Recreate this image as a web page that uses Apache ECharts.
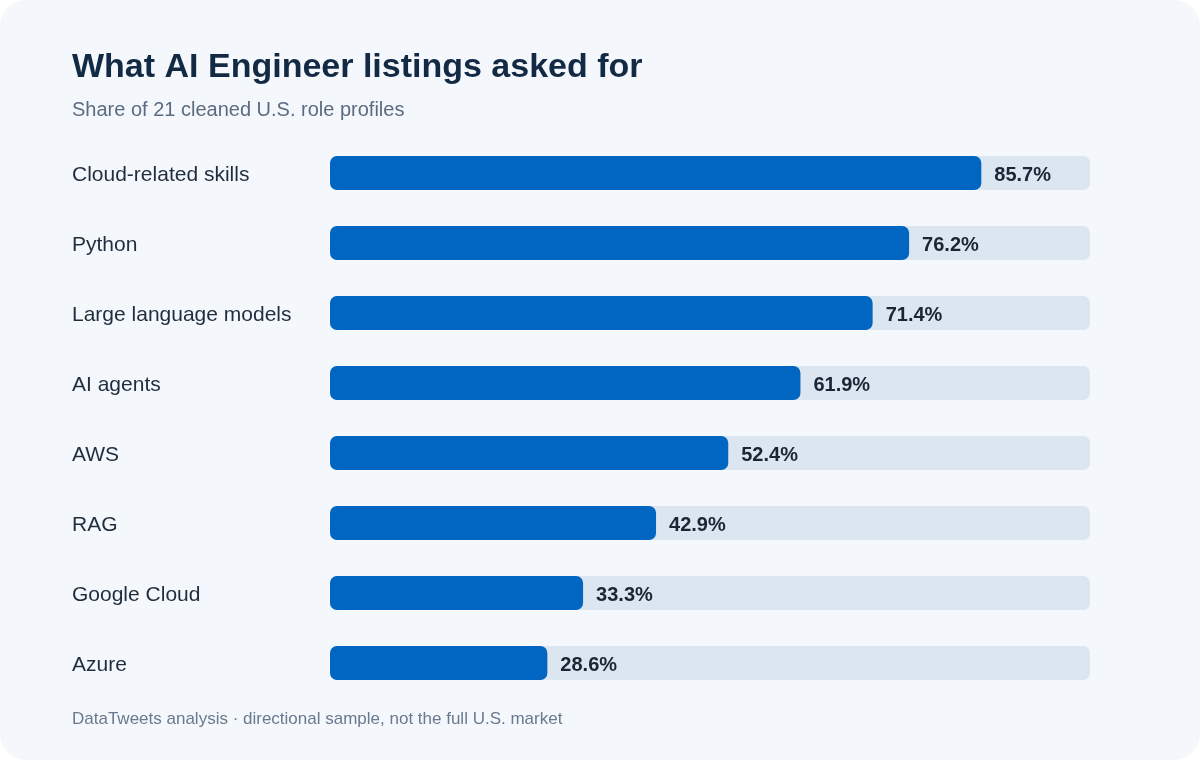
<!DOCTYPE html>
<html><head><meta charset="utf-8">
<script src="https://cdn.jsdelivr.net/npm/echarts@6/dist/echarts.min.js"></script>
<style>html,body{margin:0;padding:0;background:#ffffff;}#c{width:1200px;height:760px;}</style>
</head><body><div id="c"></div>
<script>
const categories = ["Cloud-related skills","Python","Large language models","AI agents","AWS","RAG","Google Cloud","Azure"];
const shares = [85.7, 76.2, 71.4, 61.9, 52.4, 42.9, 33.3, 28.6];
const titleText = "What AI Engineer listings asked for";
const subtitleText = "Share of 21 cleaned U.S. role profiles";
const footerText = "DataTweets analysis \u00b7 directional sample, not the full U.S. market";

const chart = echarts.init(document.getElementById('c'), null, {renderer:'canvas'});
const font = 'Liberation Sans';
chart.setOption({
  backgroundColor: 'transparent',
  animation: false,
  graphic: [{type:'rect', z:-10, shape:{x:0,y:0,width:1200,height:760,r:26}, style:{fill:'#f4f8fc'}}],
  title: [
    {text: titleText, left: 67, top: 46, padding: 5, textStyle:{fontFamily:font, fontSize:34, fontWeight:'bold', color:'#132a44'}},
    {text: subtitleText, left: 67, top: 95, padding: 5, textStyle:{fontFamily:font, fontSize:20, fontWeight:'normal', color:'#5b6b80'}},
    {text: footerText, left: 67, top: 706, padding: 5, textStyle:{fontFamily:font, fontSize:17, fontWeight:'normal', color:'#6a798d'}}
  ],
  grid: {left: 330, right: 110, top: 138, bottom: 62, containLabel: false},
  xAxis: {type:'value', min:0, max:100, show:false},
  yAxis: {type:'category', data: categories, inverse:true,
    axisLine:{show:false}, axisTick:{show:false}, splitLine:{show:false},
    axisLabel:{align:'left', margin:258, fontFamily:font, fontSize:21, color:'#1f2d3d', verticalAlign:'top', lineHeight:5}},
  series: [{
    type:'bar', data: shares, barWidth:34,
    showBackground:true,
    backgroundStyle:{color:'#dce6f0', borderRadius:7},
    itemStyle:{color:'#0066c2', borderRadius:7},
    label:{show:true, position:'right', distance:13, offset:[0,2], fontFamily:font, fontSize:20, fontWeight:'bold', color:'#1a2535',
      formatter: p => p.value.toFixed(1) + '%'}
  }]
});
</script></body></html>
